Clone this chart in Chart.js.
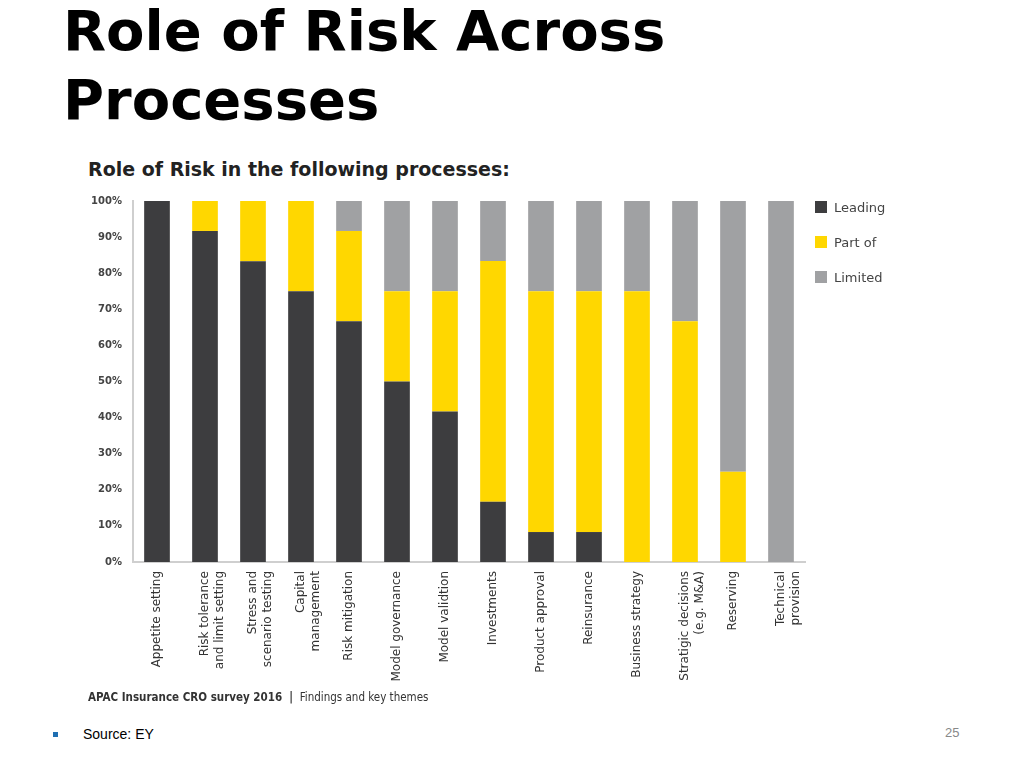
<!DOCTYPE html>
<html>
<head>
<meta charset="utf-8">
<script src="https://cdn.jsdelivr.net/npm/chart.js@4"></script>
<style>
  body { margin: 0; background: #fff; width: 1024px; height: 768px; position: relative; overflow: hidden; }
  .title { position: absolute; left: 63px; top: -4px; font: bold 56px "DejaVu Sans"; line-height: 69px; color: #000; }
  .subtitle { position: absolute; left: 88px; top: 158px; font: bold 19px "DejaVu Sans"; color: #222; }
  .wrap { position: absolute; left: 80px; top: 184px; width: 760px; height: 516px; }
  .legend { position: absolute; left: 815px; top: 200px; font: 13px "DejaVu Sans"; color: #444; }
  .legend div { height: 35px; display: flex; align-items: flex-start; }
  .legend span.box { width: 12px; height: 12px; margin-right: 7px; margin-top: 1px; }
  .caption { position: absolute; left: 88px; top: 690px; font: 11.5px "DejaVu Sans Condensed"; color: #333; }
  .caption b { font-weight: bold; }
  .bullet { position: absolute; left: 53px; top: 732px; width: 5px; height: 5px; background: #1f6fb2; }
  .source { position: absolute; left: 83px; top: 726px; font: 14px "Liberation Sans"; color: #000; }
  .page { position: absolute; left: 945px; top: 725px; font: 13px "Liberation Sans"; color: #888; }
</style>
</head>
<body>
<div class="title">Role of Risk Across<br>Processes</div>
<div class="subtitle">Role of Risk in the following processes:</div>
<div class="wrap"><canvas id="riskChart"></canvas></div>
<div class="legend" id="legend"></div>
<div class="caption"><b>APAC Insurance CRO survey 2016 &nbsp;|</b>&nbsp; Findings and key themes</div>
<div class="bullet"></div>
<div class="source">Source: EY</div>
<div class="page">25</div>
<script>
const processes = [
  "Appetite setting",
  ["Risk tolerance", "and limit setting"],
  ["Stress and", "scenario testing"],
  ["Capital", "management"],
  "Risk mitigation",
  "Model governance",
  "Model validtion",
  "Investments",
  "Product approval",
  "Reinsurance",
  "Business strategy",
  ["Stratigic decisions", "(e.g. M&A)"],
  "Reserving",
  ["Technical", "provision"]
];
const leading = [100, 91.7, 83.3, 75, 66.7, 50, 41.7, 16.7, 8.3, 8.3, 0, 0, 0, 0];
const partOf  = [0, 8.3, 16.7, 25, 25, 25, 33.3, 66.7, 66.7, 66.7, 75, 66.7, 25, 0];
const limited = [0, 0, 0, 0, 8.3, 25, 25, 16.7, 25, 25, 25, 33.3, 75, 100];
const seriesNames = ["Leading", "Part of", "Limited"];
const seriesColors = ["#3d3d3f", "#ffd700", "#a0a1a3"];
const yTicks = [0, 10, 20, 30, 40, 50, 60, 70, 80, 90, 100];

const series = [leading, partOf, limited];

new Chart(document.getElementById("riskChart"), {
  type: "bar",
  data: {
    labels: processes,
    datasets: series.map((d, i) => ({
      label: seriesNames[i],
      data: d,
      backgroundColor: seriesColors[i],
      barPercentage: 0.535,
      categoryPercentage: 1
    }))
  },
  options: {
    responsive: true,
    maintainAspectRatio: false,
    animation: false,
    layout: { padding: { top: 5, right: 35, left: 0, bottom: 0 } },
    plugins: { legend: { display: false }, tooltip: { enabled: false } },
    scales: {
      x: {
        stacked: true,
        grid: { display: false },
        border: { color: "#cfcfcf", width: 2 },
        ticks: {
          minRotation: 90, maxRotation: 90, autoSkip: false, padding: 1,
          color: "#333", font: { family: "DejaVu Sans", size: 12 }
        },
        afterFit: s => { s.height = 138; }
      },
      y: {
        stacked: true,
        min: 0, max: 100,
        afterBuildTicks: s => { s.ticks = yTicks.map(v => ({ value: v })); },
        grid: { display: false, drawTicks: false },
        border: { color: "#cfcfcf", width: 2 },
        ticks: {
          padding: 11, color: "#444",
          font: { family: "DejaVu Sans", size: 10, weight: "bold" },
          callback: v => v + "%"
        },
        afterFit: s => { s.width = 53; }
      }
    }
  }
});

const legend = document.getElementById("legend");
seriesNames.forEach((n, i) => {
  const row = document.createElement("div");
  const box = document.createElement("span");
  box.className = "box";
  box.style.background = seriesColors[i];
  row.appendChild(box);
  row.appendChild(document.createTextNode(n));
  legend.appendChild(row);
});
</script>
</body>
</html>
